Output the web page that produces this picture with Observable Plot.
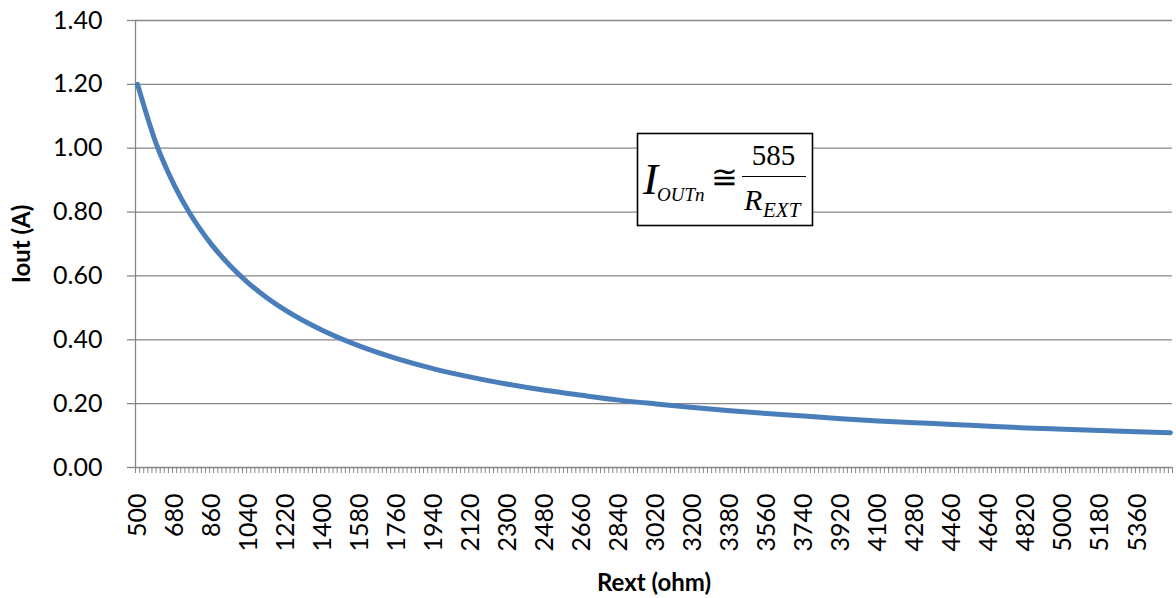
<!DOCTYPE html>
<html><head><meta charset="utf-8">
<script src="https://cdn.jsdelivr.net/npm/d3@7"></script>
<script src="https://cdn.jsdelivr.net/npm/@observablehq/plot@0.6"></script>
<style>
body{margin:0;background:#fff;}
#wrap{position:relative;width:1176px;height:598px;overflow:hidden;}
#wrap svg{position:absolute;left:0;top:0;}
</style></head>
<body><div id="wrap"></div>
<script>
// Rext (ohm) sampled along the curve (labelled categories plus a few extra points in the steep part)
const rext = [500,590,680,750,860,950,1040,1130,1220,1400,1580,1760,1940,2120,2300,2480,2660,2840,3020,3200,3380,3560,3740,3920,4100,4280,4460,4640,4820,5000,5180,5360,5520];
// Iout (A)
const iout = [1.20,1.015,0.882,0.80,0.698,0.632,0.577,0.531,0.492,0.429,0.380,0.341,0.309,0.283,0.261,0.242,0.226,0.211,0.199,0.188,0.178,0.169,0.161,0.153,0.146,0.140,0.135,0.129,0.124,0.120,0.116,0.112,0.109];
const xTickLabels = [500,680,860,1040,1220,1400,1580,1760,1940,2120,2300,2480,2660,2840,3020,3200,3380,3560,3740,3920,4100,4280,4460,4640,4820,5000,5180,5360];
const yTicks = [0,0.2,0.4,0.6,0.8,1.0,1.2,1.4];
const categoryStep = 20;
const firstCategory = 500, lastCategory = 5520;

const data = rext.map((r, k) => ({r, i: iout[k]}));
const lo = firstCategory - categoryStep/2, hi = lastCategory + categoryStep/2;
const boundaries = d3.range(lo, hi + 1, categoryStep);
const grid = "#878787";
const font = "Lato, 'Open Sans', sans-serif";

const chart = Plot.plot({
  width: 1176, height: 598,
  marginLeft: 135, marginRight: 4, marginTop: 20, marginBottom: 131,
  style: {fontFamily: font, fontSize: "25px", color: "#000", background: "#fff", overflow: "visible"},
  x: {domain: [lo, hi]},
  y: {domain: [0, 1.4]},
  marks: [
    Plot.ruleY(yTicks, {stroke: grid, strokeWidth: 1.3}),
    Plot.ruleX([lo], {stroke: grid, strokeWidth: 1.3}),
    Plot.axisY({ticks: yTicks, tickSize: 8, tickPadding: 25, tickFormat: d3.format(".2f"), stroke: grid, strokeWidth: 1.3, label: null, fill: "#000", fontSize: 25}),
    Plot.axisX({ticks: boundaries, tickSize: 6, tickFormat: () => "", stroke: grid, strokeWidth: 1, label: null}),
    Plot.axisX({ticks: xTickLabels, tickSize: 0, tickPadding: 26, tickRotate: -90, tickFormat: d => String(d), label: null, fill: "#000", fontSize: 25}),
    Plot.line(data, {x: "r", y: "i", stroke: "#4a7ebb", strokeWidth: 5, curve: "monotone-x", strokeLinecap: "round"}),
    Plot.text(["Rext (ohm)"], {frameAnchor: "bottom", dy: 116, fontWeight: "bold", fontSize: 24, fill: "#000", lineAnchor: "middle"}),
    Plot.text(["Iout (A)"], {frameAnchor: "left", dx: -113, rotate: -90, fontWeight: "bold", fontSize: 24, fill: "#000", textAnchor: "middle"})
  ]
});
document.getElementById("wrap").appendChild(chart);

// Equation box overlay
const ns = "http://www.w3.org/2000/svg";
const eq = document.createElementNS(ns, "svg");
eq.setAttribute("width", 1176); eq.setAttribute("height", 598);
eq.style.pointerEvents = "none";
eq.innerHTML = `
<g font-family="'Liberation Serif','Times New Roman',serif" fill="#000">
<rect x="637.5" y="133.5" width="175" height="92" fill="#fff" stroke="#000" stroke-width="1.6"/>
<text x="643" y="194" font-size="45" font-style="italic">I</text>
<text x="657" y="201" font-size="19" font-style="italic">OUTn</text>
<text x="711" y="188" font-size="32">≅</text>
<text x="773.5" y="165" font-size="29" text-anchor="middle">585</text>
<line x1="742" x2="806" y1="176.5" y2="176.5" stroke="#000" stroke-width="1.2"/>
<text x="744" y="210" font-size="30" font-style="italic">R</text>
<text x="763" y="217" font-size="21" font-style="italic">EXT</text>
</g>`;
document.getElementById("wrap").appendChild(eq);
</script>
</body></html>
